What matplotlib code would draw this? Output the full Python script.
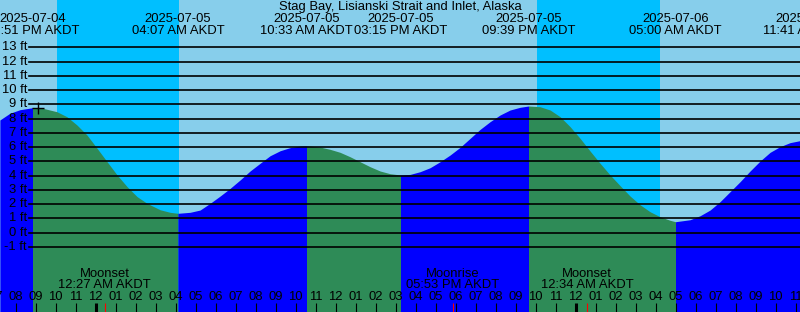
import numpy as np
import matplotlib.pyplot as plt
import matplotlib.transforms as mtransforms

plt.rcParams['font.family'] = ['Liberation Sans', 'DejaVu Sans']

# Hours after 2025-07-05 00:00 AKDT, tide height in feet
tide_hours = [-4.78, -4.28, -3.78, -3.15, -2.63, -1.93, -1.43, -0.93, -0.43, 0.08,
              0.58, 1.08, 1.58, 2.08, 2.58, 3.23, 3.73, 4.12, 4.73, 5.23,
              5.73, 6.23, 6.73, 7.23, 7.73, 8.23, 8.73, 9.23, 9.73, 10.23,
              10.55, 11.23, 11.73, 12.23, 12.73, 13.23, 13.73, 14.23, 14.73, 15.25,
              15.73, 16.23, 16.73, 17.23, 17.73, 18.23, 18.73, 19.23, 19.73, 20.23,
              20.73, 21.23, 21.65, 22.23, 22.73, 23.23, 23.73, 24.23, 24.73, 25.23,
              25.73, 26.23, 26.73, 27.23, 27.73, 28.23, 28.73, 29.0, 29.73, 30.23,
              30.73, 31.23, 31.73, 32.23, 32.73, 33.23, 33.73, 34.23, 34.73, 35.23]
tide_ft = [7.90, 8.37, 8.62, 8.76, 8.72, 8.48, 8.13, 7.55, 6.85, 5.91,
           4.97, 4.04, 3.22, 2.52, 2.05, 1.60, 1.42, 1.35, 1.42, 1.58,
           2.05, 2.56, 3.10, 3.69, 4.32, 4.86, 5.39, 5.74, 5.96, 6.07,
           6.09, 6.00, 5.84, 5.63, 5.32, 4.97, 4.62, 4.32, 4.13, 4.04,
           4.08, 4.27, 4.55, 4.97, 5.44, 5.98, 6.61, 7.24, 7.78, 8.25,
           8.60, 8.79, 8.88, 8.83, 8.60, 8.13, 7.43, 6.61, 5.72, 4.86,
           4.04, 3.29, 2.56, 1.95, 1.46, 1.11, 0.86, 0.76, 0.90, 1.18,
           1.58, 2.17, 2.87, 3.57, 4.32, 5.02, 5.63, 6.03, 6.31, 6.45]

# High / low tide events
event_hours = [-3.15, 4.12, 10.55, 15.25, 21.65, 29.0, 35.68]
event_kind = ['high', 'low', 'high', 'low', 'high', 'low', 'high']
event_dates = ['2025-07-04', '2025-07-05', '2025-07-05', '2025-07-05',
               '2025-07-05', '2025-07-06', '2025-07-06']
event_times = ['08:51 PM AKDT', '04:07 AM AKDT', '10:33 AM AKDT', '03:15 PM AKDT',
               '09:39 PM AKDT', '05:00 AM AKDT', '11:41 AM AKDT']

# Sunset -> sunrise
night_start = [-1.93, 22.08]
night_end = [4.18, 28.23]

moon_hours = [0.45, 17.88, 24.57]
moon_events = ['Moonset', 'Moonrise', 'Moonset']
moon_times = ['12:27 AM AKDT', '05:53 PM AKDT', '12:34 AM AKDT']

grid_ft = list(range(-1, 14))
now_hour, now_ft = -2.89, 8.74

title = 'Stag Bay, Lisianski Strait and Inlet, Alaska'

W, H = 800, 312
fig = plt.figure(figsize=(W / 100, H / 100), dpi=100)
ax = fig.add_axes([0, 0, 1, 1])
ax.set_axis_off()
x0, x1 = -4.775, 35.225
y0, y1 = -5.575, 16.32
ax.set_xlim(x0, x1)
ax.set_ylim(y0, y1)

fs = 9.4
blend = mtransforms.blended_transform_factory(ax.transData, ax.transAxes)

def fy(py):
    # pixel row from top -> axes fraction
    return 1 - py / H

# sky
ax.axvspan(x0, x1, color='#87CEEB', zorder=0, lw=0)
for s, e in zip(night_start, night_end):
    ax.axvspan(s, e, color='#00BFFF', zorder=0.5, lw=0)

# water, blue while rising, green while falling
t = np.array(tide_hours)
h = np.array(tide_ft)
bounds = [x0 - 1] + event_hours + [x1 + 1]
for i in range(len(bounds) - 1):
    m = (t >= bounds[i]) & (t <= bounds[i + 1])
    if m.sum() < 2:
        continue
    if i == 0:
        rising = event_kind[0] == 'high'
    else:
        rising = event_kind[i - 1] == 'low'
    ax.fill_between(t[m], h[m], y0, color='#0000FF' if rising else '#2E8B57',
                    lw=0, antialiased=False, zorder=1)

# grid lines and depth labels
for g in grid_ft:
    ax.axhline(g, xmin=29 / W, xmax=1, color='black', lw=1.2, zorder=2)
    ax.text(27 / W, g, f'{g} ft', transform=ax.get_yaxis_transform(),
            ha='right', va='center', fontsize=fs, zorder=3)

# "now" marker
ax.plot(now_hour, now_ft, marker='+', color='black', ms=9, mew=1, zorder=3)

# title and tide event labels
ax.text(0.5, fy(7), title, transform=ax.transAxes, ha='center', va='center', fontsize=fs)
for eh, d, tm in zip(event_hours, event_dates, event_times):
    ax.text(eh, fy(19), d, transform=blend, ha='center', va='center', fontsize=fs)
    ax.text(eh, fy(31), tm, transform=blend, ha='center', va='center', fontsize=fs)

# hour ticks along the bottom
for hr in range(-5, 37):
    hod = hr % 24
    lab = f'{(hod - 1) % 12 + 1:02d}'
    ax.text(hr, fy(297), lab, transform=blend, ha='center', va='center', fontsize=fs, zorder=3)
    ax.plot([hr, hr], [0, fy(303)], transform=blend, color='black',
            lw=2.2 if hod == 0 else 0.8, solid_capstyle='butt', zorder=3)

# moon events
for mh, ev, mt in zip(moon_hours, moon_events, moon_times):
    ax.plot([mh, mh], [0, fy(303)], transform=blend, color='red', lw=0.8,
            solid_capstyle='butt', zorder=3)
    ax.text(mh, fy(274), ev, transform=blend, ha='center', va='center', fontsize=fs, zorder=3)
    ax.text(mh, fy(285), mt, transform=blend, ha='center', va='center', fontsize=fs, zorder=3)

fig.savefig('out.png', dpi=100)
